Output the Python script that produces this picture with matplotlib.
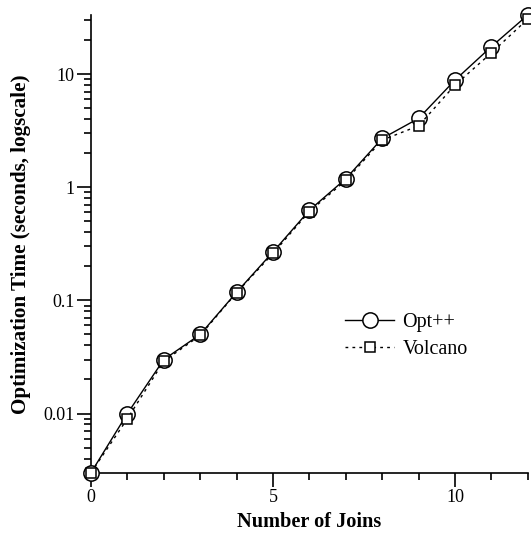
import matplotlib
matplotlib.use("Agg")
import matplotlib.pyplot as plt
from matplotlib.ticker import FixedLocator, NullFormatter, LogLocator

joins = [0, 1, 2, 3, 4, 5, 6, 7, 8, 9, 10, 11, 12]
opt_pp = [0.003, 0.010, 0.030, 0.050, 0.118, 0.268, 0.626, 1.19, 2.70, 4.06, 8.85, 17.5, 33.3]
volcano = [0.003, 0.009, 0.029, 0.049, 0.117, 0.260, 0.610, 1.15, 2.61, 3.49, 8.0, 15.4, 30.7]
y_ticks = [0.01, 0.1, 1, 10]
y_labels = ["0.01", "0.1", "1", "10"]
x_ticks = [0, 5, 10]
x_labels = ["0", "5", "10"]

plt.rcParams['font.family'] = ['Liberation Serif', 'DejaVu Serif']

fig = plt.figure(figsize=(5.31, 5.33), dpi=100)
ax = fig.add_axes([0.1714, 0.1132, 0.8226, 0.8587])

ax.plot(joins, opt_pp, '-', color='black', lw=1.0, marker='o', ms=11,
        mfc='white', mec='black', mew=1.1, clip_on=False, label='Opt++', zorder=3)
ax.plot(joins, volcano, color='black', lw=1.0, linestyle=(0, (2, 3)), marker='s', ms=6.5,
        mfc='white', mec='black', mew=1.1, clip_on=False, label='Volcano', zorder=4)

ax.set_yscale('log')
ax.set_ylim(0.003, 33.3)
ax.set_xlim(0, 12)

ax.yaxis.set_major_locator(FixedLocator(y_ticks))
ax.set_yticklabels(y_labels)
ax.yaxis.set_minor_locator(LogLocator(base=10, subs=[2, 3, 4, 5, 6, 7, 8, 9], numticks=20))
ax.yaxis.set_minor_formatter(NullFormatter())

ax.set_xticks(x_ticks)
ax.set_xticklabels(x_labels)
ax.set_xticks(range(0, 13), minor=True)

for s in ['top', 'right']:
    ax.spines[s].set_visible(False)
for s in ['left', 'bottom']:
    ax.spines[s].set_linewidth(1.2)

ax.tick_params(axis='y', which='major', direction='out', length=10, width=1.2, labelsize=13, pad=2)
ax.tick_params(axis='y', which='minor', direction='out', length=5, width=1.2)
ax.tick_params(axis='x', which='major', direction='out', length=10, width=1.2, labelsize=13, pad=2)
ax.tick_params(axis='x', which='minor', direction='out', length=5, width=1.2)

ax.set_xlabel('Number of Joins', fontsize=14.6, fontweight='bold', labelpad=4)
ax.set_ylabel('Optimization Time (seconds, logscale)', fontsize=15.2, fontweight='bold', labelpad=9)

ax.legend(loc='upper left', bbox_to_anchor=(0.54, 0.389), frameon=False, fontsize=14.5,
          handlelength=2.45, handletextpad=0.4, labelspacing=0.41)

fig.savefig('out.png', dpi=100)
